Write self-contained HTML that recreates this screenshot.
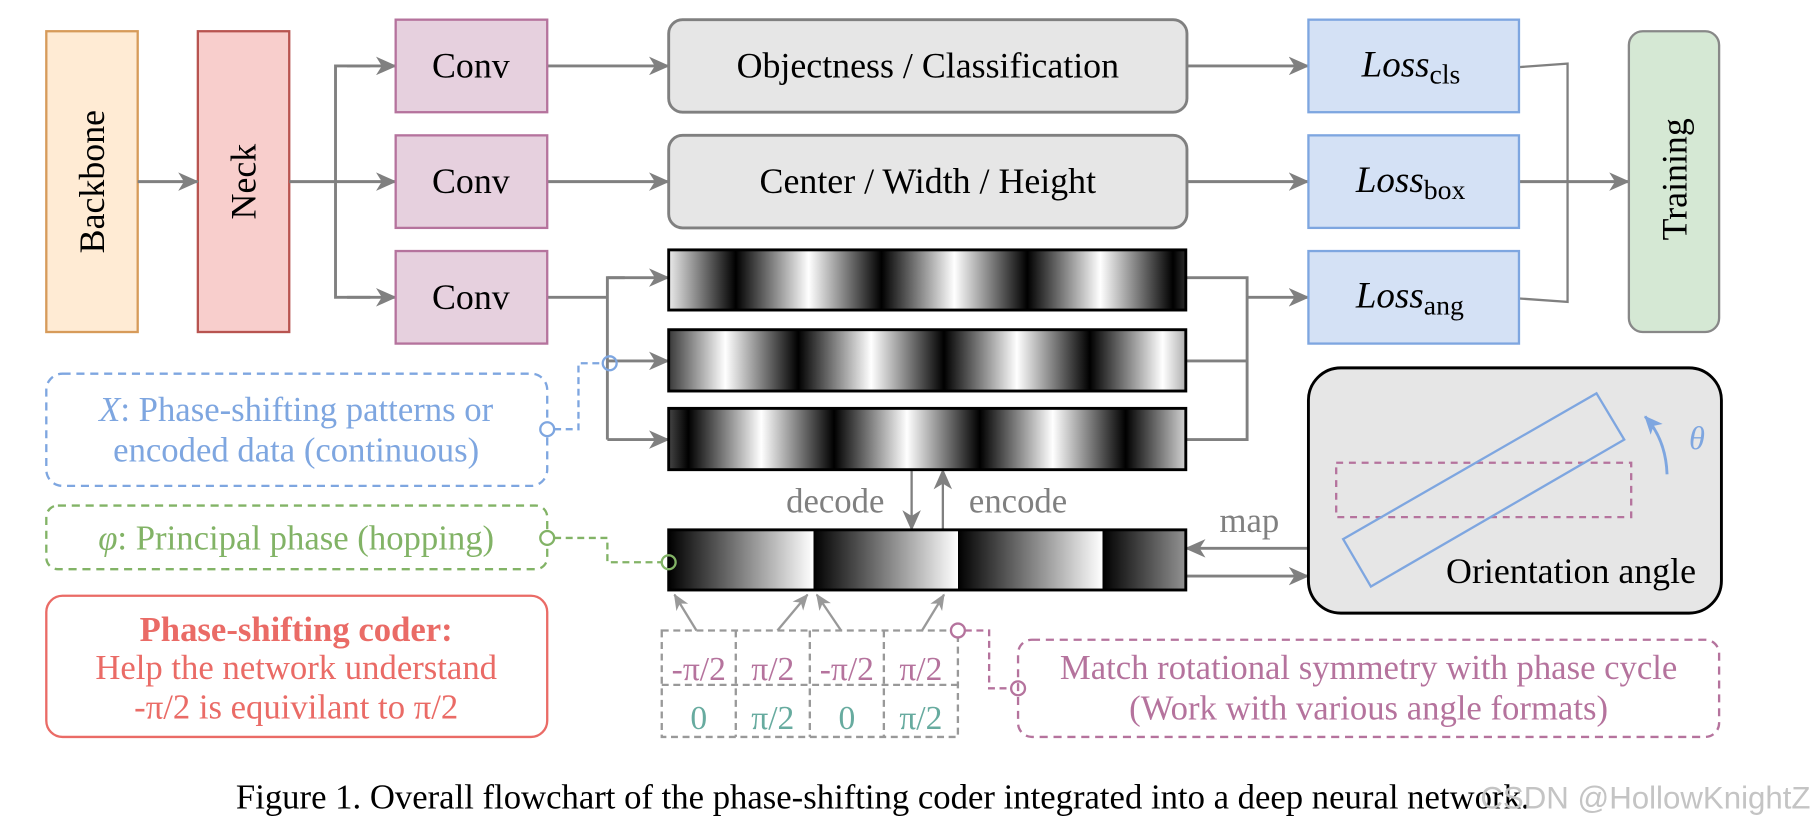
<!DOCTYPE html>
<html><head><meta charset="utf-8"><style>
html,body{margin:0;padding:0;background:#fff;}
svg{display:block;}
text{font-family:"Liberation Serif",serif;}
</style></head><body>
<svg width="1814" height="829" viewBox="0 0 1568 716.6" xmlns="http://www.w3.org/2000/svg">
<defs>
<marker id="ah" markerWidth="18" markerHeight="16" refX="17" refY="8" orient="auto" markerUnits="userSpaceOnUse" viewBox="0 0 18 16">
<path d="M0,0 L18,8 L0,16 L5,8 z" fill="#808080"/></marker>
<marker id="ahs" markerWidth="14" markerHeight="12" refX="13" refY="6" orient="auto" markerUnits="userSpaceOnUse" viewBox="0 0 14 12">
<path d="M0,0 L14,6 L0,12 L4,6 z" fill="#999"/></marker>
<marker id="ahblue" markerWidth="16" markerHeight="14" refX="15" refY="7" orient="auto" markerUnits="userSpaceOnUse" viewBox="0 0 16 14">
<path d="M0,0 L16,7 L0,14 L4,7 z" fill="#7ea6e0"/></marker>
<linearGradient id="g1" gradientUnits="userSpaceOnUse" x1="573" y1="0" x2="699" y2="0" spreadMethod="repeat">
<stop offset="0" stop-color="#fff"/><stop offset="0.5" stop-color="#000"/><stop offset="1" stop-color="#fff"/></linearGradient>
<linearGradient id="g2" gradientUnits="userSpaceOnUse" x1="627" y1="0" x2="753" y2="0" spreadMethod="repeat">
<stop offset="0" stop-color="#fff"/><stop offset="0.5" stop-color="#000"/><stop offset="1" stop-color="#fff"/></linearGradient>
<linearGradient id="g3" gradientUnits="userSpaceOnUse" x1="532" y1="0" x2="658" y2="0" spreadMethod="repeat">
<stop offset="0" stop-color="#fff"/><stop offset="0.5" stop-color="#000"/><stop offset="1" stop-color="#fff"/></linearGradient>
<linearGradient id="g4" gradientUnits="userSpaceOnUse" x1="578" y1="0" x2="703" y2="0" spreadMethod="repeat">
<stop offset="0" stop-color="#000"/><stop offset="1" stop-color="#fff"/></linearGradient>
</defs>

<!-- Backbone / Neck -->
<rect x="40" y="27" width="79" height="260" fill="#ffebd4" stroke="#d79b5a" stroke-width="2"/>
<text transform="translate(90,157) rotate(-90)" text-anchor="middle" font-size="31">Backbone</text>
<rect x="171" y="27" width="79" height="260" fill="#f8cecc" stroke="#b85450" stroke-width="2"/>
<text transform="translate(221,157) rotate(-90)" text-anchor="middle" font-size="31">Neck</text>

<g stroke="#808080" stroke-width="2.5" fill="none">
<line x1="119" y1="157" x2="171" y2="157" marker-end="url(#ah)"/>
<line x1="250" y1="157" x2="342" y2="157" marker-end="url(#ah)"/>
<polyline points="320,57 290,57 290,257 320,257" />
<line x1="300" y1="57" x2="342" y2="57" marker-end="url(#ah)"/>
<line x1="300" y1="257" x2="342" y2="257" marker-end="url(#ah)"/>
<line x1="473" y1="57" x2="578" y2="57" marker-end="url(#ah)"/>
<line x1="473" y1="157" x2="578" y2="157" marker-end="url(#ah)"/>
<polyline points="473,257 525,257"/>
<polyline points="525,380 525,240 540,240"/>
<line x1="525" y1="240" x2="578" y2="240" marker-end="url(#ah)"/>
<line x1="525" y1="312" x2="578" y2="312" marker-end="url(#ah)"/>
<line x1="525" y1="380" x2="578" y2="380" marker-end="url(#ah)"/>
<polyline points="1025,240 1078,240 1078,380 1025,380"/>
<line x1="1025" y1="312" x2="1078" y2="312"/>
<line x1="1078" y1="257" x2="1131" y2="257" marker-end="url(#ah)"/>
<line x1="1026" y1="57" x2="1131" y2="57" marker-end="url(#ah)"/>
<line x1="1026" y1="157" x2="1131" y2="157" marker-end="url(#ah)"/>
<polyline points="1313,58 1355,55 1355,261 1313,258" stroke-width="2"/>
<line x1="1313" y1="157" x2="1408" y2="157" marker-end="url(#ah)"/>
<line x1="788" y1="406" x2="788" y2="458" marker-end="url(#ah)" stroke-width="2"/>
<line x1="815" y1="458" x2="815" y2="406" marker-end="url(#ah)" stroke-width="2"/>
<line x1="1131" y1="474" x2="1025" y2="474" marker-end="url(#ah)"/>
<line x1="1025" y1="498" x2="1131" y2="498" marker-end="url(#ah)"/>
</g>

<!-- Convs -->
<g fill="#e6d0de" stroke="#b5739d" stroke-width="2">
<rect x="342" y="17" width="131" height="80"/>
<rect x="342" y="117" width="131" height="80"/>
<rect x="342" y="217" width="131" height="80"/>
</g>
<g font-size="31" text-anchor="middle">
<text x="407" y="67">Conv</text><text x="407" y="167">Conv</text><text x="407" y="267">Conv</text>
</g>

<!-- gray heads -->
<rect x="578" y="17" width="448" height="80" rx="12" fill="#e6e6e6" stroke="#808080" stroke-width="2.5"/>
<text x="802" y="67" font-size="31" text-anchor="middle">Objectness / Classification</text>
<rect x="578" y="117" width="448" height="80" rx="12" fill="#e6e6e6" stroke="#808080" stroke-width="2.5"/>
<text x="802" y="167" font-size="31" text-anchor="middle">Center / Width / Height</text>

<!-- stripes -->
<rect x="578" y="216" width="447" height="52" fill="url(#g1)" stroke="#000" stroke-width="2.5"/>
<rect x="578" y="285" width="447" height="53" fill="url(#g2)" stroke="#000" stroke-width="2.5"/>
<rect x="578" y="353" width="447" height="53" fill="url(#g3)" stroke="#000" stroke-width="2.5"/>
<rect x="578" y="458" width="447" height="52" fill="url(#g4)" stroke="#000" stroke-width="2.5"/>

<!-- Loss -->
<g fill="#d4e1f5" stroke="#7ea6e0" stroke-width="2">
<rect x="1131" y="17" width="182" height="80"/>
<rect x="1131" y="117" width="182" height="80"/>
<rect x="1131" y="217" width="182" height="80"/>
</g>
<g font-size="32">
<text x="1177" y="66"><tspan font-style="italic">Loss</tspan><tspan font-size="24" dy="6">cls</tspan></text>
<text x="1172" y="166"><tspan font-style="italic">Loss</tspan><tspan font-size="24" dy="6">box</tspan></text>
<text x="1172" y="266"><tspan font-style="italic">Loss</tspan><tspan font-size="24" dy="6">ang</tspan></text>
</g>

<!-- Training -->
<rect x="1408" y="27" width="78" height="260" rx="12" fill="#d5e8d4" stroke="#888" stroke-width="2"/>
<text transform="translate(1458,155) rotate(-90)" text-anchor="middle" font-size="31">Training</text>

<!-- decode/encode/map labels -->
<text x="722" y="443" font-size="30" fill="#808080" text-anchor="middle">decode</text>
<text x="880" y="443" font-size="30" fill="#808080" text-anchor="middle">encode</text>
<text x="1080" y="460" font-size="30" fill="#808080" text-anchor="middle">map</text>

<!-- Orientation -->
<rect x="1131" y="318" width="357" height="212" rx="28" fill="#e6e6e6" stroke="#000" stroke-width="2.5"/>
<rect x="1155" y="400" width="255" height="47" fill="none" stroke="#b5739d" stroke-width="2" stroke-dasharray="6,5"/>
<polygon points="1161,466 1380,340 1404,380 1185,507" fill="none" stroke="#7ea6e0" stroke-width="2"/>
<path d="M1441,410 Q1440,380 1422,360" fill="none" stroke="#7ea6e0" stroke-width="2.5" marker-end="url(#ahblue)"/>
<text x="1460" y="388" font-size="28" fill="#7ea6e0" font-style="italic">θ</text>
<text x="1358" y="504" font-size="31" text-anchor="middle">Orientation angle</text>

<!-- X box -->
<rect x="40" y="323" width="433" height="97" rx="14" fill="none" stroke="#7ea6e0" stroke-width="2" stroke-dasharray="7,5"/>
<text x="256" y="364" font-size="30" fill="#7ea6e0" text-anchor="middle"><tspan font-style="italic">X</tspan>: Phase-shifting patterns or</text>
<text x="256" y="399" font-size="30" fill="#7ea6e0" text-anchor="middle">encoded data (continuous)</text>
<polyline points="479,371 500,371 500,314 521,314" fill="none" stroke="#7ea6e0" stroke-width="2" stroke-dasharray="6,4"/>
<circle cx="473" cy="371" r="6" fill="#fff" stroke="#7ea6e0" stroke-width="2"/>
<circle cx="527" cy="314" r="6" fill="none" stroke="#7ea6e0" stroke-width="2"/>

<!-- phi box -->
<rect x="40" y="437" width="433" height="55" rx="10" fill="none" stroke="#82b366" stroke-width="2" stroke-dasharray="7,5"/>
<text x="256" y="475" font-size="30" fill="#82b366" text-anchor="middle"><tspan font-style="italic">φ</tspan>: Principal phase (hopping)</text>
<polyline points="479,465 525,465 525,486 572,486" fill="none" stroke="#82b366" stroke-width="2" stroke-dasharray="6,4"/>
<circle cx="473" cy="465" r="6" fill="#fff" stroke="#82b366" stroke-width="2"/>
<circle cx="578" cy="486" r="6" fill="none" stroke="#82b366" stroke-width="2"/>

<!-- coder box -->
<rect x="40" y="515" width="433" height="122" rx="14" fill="#fff" stroke="#ea6b66" stroke-width="2"/>
<text x="256" y="554" font-size="30" fill="#ea6b66" font-weight="bold" text-anchor="middle">Phase-shifting coder:</text>
<text x="256" y="587" font-size="30" fill="#ea6b66" text-anchor="middle">Help the network understand</text>
<text x="256" y="621" font-size="30" fill="#ea6b66" text-anchor="middle">-π/2 is equivilant to π/2</text>

<!-- table -->
<g stroke="#999" stroke-width="2" stroke-dasharray="6,4" fill="none">
<rect x="572" y="545" width="256" height="92"/>
<line x1="572" y1="592" x2="828" y2="592"/>
<line x1="636" y1="545" x2="636" y2="637"/>
<line x1="700" y1="545" x2="700" y2="637"/>
<line x1="764" y1="545" x2="764" y2="637"/>
</g>
<g stroke="#999" stroke-width="2" fill="none">
<line x1="602" y1="545" x2="583" y2="514" marker-end="url(#ahs)"/>
<line x1="672" y1="545" x2="698" y2="514" marker-end="url(#ahs)"/>
<line x1="727" y1="545" x2="706" y2="514" marker-end="url(#ahs)"/>
<line x1="797" y1="545" x2="816" y2="514" marker-end="url(#ahs)"/>
</g>
<g font-size="29" text-anchor="middle" fill="#b5739d">
<text x="604" y="588">-π/2</text><text x="668" y="588">π/2</text><text x="732" y="588">-π/2</text><text x="796" y="588">π/2</text>
</g>
<g font-size="29" text-anchor="middle" fill="#67ab9f">
<text x="604" y="630">0</text><text x="668" y="630">π/2</text><text x="732" y="630">0</text><text x="796" y="630">π/2</text>
</g>
<polyline points="834,545 855,545 855,595 874,595" fill="none" stroke="#b5739d" stroke-width="2" stroke-dasharray="6,4"/>
<circle cx="828" cy="545" r="6" fill="#fff" stroke="#b5739d" stroke-width="2"/>
<circle cx="880" cy="595" r="6" fill="#fff" stroke="#b5739d" stroke-width="2"/>

<!-- match box -->
<rect x="880" y="553" width="606" height="84" rx="12" fill="none" stroke="#b5739d" stroke-width="2" stroke-dasharray="7,5"/>
<text x="1183" y="587" font-size="30" fill="#b5739d" text-anchor="middle">Match rotational symmetry with phase cycle</text>
<text x="1183" y="622" font-size="30" fill="#b5739d" text-anchor="middle">(Work with various angle formats)</text>

<!-- caption -->
<text x="763" y="699" font-size="30" text-anchor="middle">Figure 1. Overall flowchart of the phase-shifting coder integrated into a deep neural network.</text>
<text x="1565" y="699" font-size="27" fill="#c4c4c4" text-anchor="end" style="font-family:'Liberation Sans',sans-serif">CSDN @HollowKnightZ</text>
</svg>
</body></html>
